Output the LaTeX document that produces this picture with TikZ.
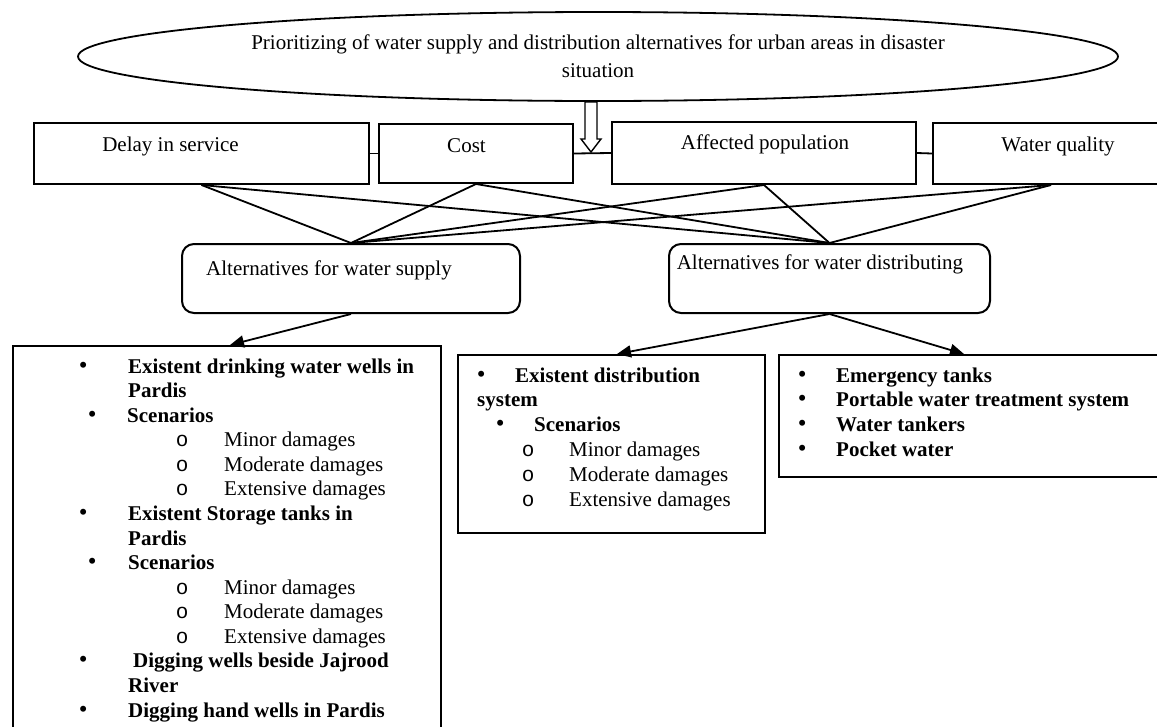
\documentclass[tikz,border=0pt]{standalone}
\usepackage{fontspec}
\setmainfont{Liberation Serif}
\newfontfamily\monof{Liberation Mono}
\usetikzlibrary{shapes.geometric,arrows.meta}
\newcommand\bitem[3]{\makebox[0pt]{#1}\hspace*{#2pt}#3}
\newcommand\subo{{\monof o}}
\newcommand\bdot{{\fontsize{25}{24.5}\selectfont •}}
\begin{document}
\begin{tikzpicture}[x=1pt,y=-1pt,
  every node/.style={inner sep=0pt, font=\fontsize{21}{24.5}\selectfont},
  crit/.style={draw, line width=2pt, rectangle, anchor=north west},
  altbox/.style={draw, line width=2pt, rounded corners=12pt, anchor=north west},
  listbox/.style={draw, line width=2pt, anchor=north west},
  link/.style={line width=1.8pt},
  arr/.style={line width=1.8pt, -{Triangle[length=14pt,width=12pt]}},
  txt/.style={anchor=base west}
]
\useasboundingbox (0,0) rectangle (1157,726);
\clip (0,0) rectangle (1157,726);

% title ellipse
\node[draw, ellipse, line width=1.8pt, minimum width=1040pt, minimum height=89pt,
      align=center, font=\fontsize{21}{28}\selectfont] (title) at (598,56.5)
  {Prioritizing of water supply and distribution alternatives for urban areas in disaster\\situation};

% hollow arrow
\draw[line width=1.4pt, fill=white] (585,102) -- (597,102) -- (597,139) -- (601,139)
  -- (591,152) -- (581,139) -- (585,139) -- cycle;

% criteria boxes
\node[crit, minimum width=335pt, minimum height=61pt] (delay) at (33,122) {};
\node[crit, minimum width=194pt, minimum height=59pt] (cost) at (378,123) {};
\node[crit, minimum width=304pt, minimum height=62pt] (aff) at (611,121) {};
\node[crit, minimum width=236pt, minimum height=61pt] (water) at (932,122) {};
\node (tdelay) at (170.5,146) {Delay in service};
\node (tcost) at (466.5,146) {Cost};
\node (taff) at (765,144) {Affected population};
\node (twater) at (1058,146) {Water quality};

\draw[link] (delay.east) -- (cost.west);
\draw[link] (cost.east) -- (aff.west);
\draw[link] (aff.east) -- (water.west);

% alternatives
\node[altbox, minimum width=338pt, minimum height=69pt] (supply) at (181,243) {};
\node[altbox, minimum width=321pt, minimum height=69pt] (distr) at (668,243) {};
\node (tsupply) at (329,270) {Alternatives for water supply};
\node (tdistr) at (820,264) {Alternatives for water distributing};

\foreach \c in {delay,cost,aff,water}{
  \draw[link] (\c.south) -- (supply.north);
  \draw[link] (\c.south) -- (distr.north);
}

% list boxes
\node[listbox, minimum width=428pt, minimum height=420pt] (leftbox) at (12,345) {};
\node[listbox, minimum width=307pt, minimum height=178pt] (midbox) at (457,354) {};
\node[listbox, minimum width=400pt, minimum height=122pt] (rightbox) at (778,354) {};

\draw[arr] (supply.south) -- ([xshift=218pt]leftbox.north west);
\draw[arr] (distr.south) -- ([xshift=160pt]midbox.north west);
\draw[arr] (distr.south) -- ([xshift=186pt]rightbox.north west);

% left box content
\node[txt] (l0) at (83,373) {\bitem{\bdot}{45}{\textbf{Existent drinking water wells in}}};
\node[txt] (l1) at (128,397.6) {\textbf{Pardis}};
\node[txt] (l2) at (92,422.1) {\bitem{\bdot}{35}{\textbf{Scenarios}}};
\node[txt] (l3) at (182,446.7) {\bitem{\subo}{42}{Minor damages}};
\node[txt] (l4) at (182,471.3) {\bitem{\subo}{42}{Moderate damages}};
\node[txt] (l5) at (182,495.9) {\bitem{\subo}{42}{Extensive damages}};
\node[txt] (l6) at (83,520.4) {\bitem{\bdot}{45}{\textbf{Existent Storage tanks in}}};
\node[txt] (l7) at (128,545) {\textbf{Pardis}};
\node[txt] (l8) at (92,569.6) {\bitem{\bdot}{36}{\textbf{Scenarios}}};
\node[txt] (l9) at (182,594.1) {\bitem{\subo}{42}{Minor damages}};
\node[txt] (l10) at (182,618.7) {\bitem{\subo}{42}{Moderate damages}};
\node[txt] (l11) at (182,643.3) {\bitem{\subo}{42}{Extensive damages}};
\node[txt] (l12) at (83,667.8) {\bitem{\bdot}{50}{\textbf{Digging wells beside Jajrood}}};
\node[txt] (l13) at (128,692.4) {\textbf{River}};
\node[txt] (l14) at (83,717) {\bitem{\bdot}{45}{\textbf{Digging hand wells in Pardis}}};

% middle box content
\node[txt] (m0) at (481,382) {\bitem{\bdot}{34}{\textbf{Existent distribution}}};
\node[txt] (m1) at (477,406.8) {\textbf{system}};
\node[txt] (m2) at (500,431.6) {\bitem{\bdot}{34}{\textbf{Scenarios}}};
\node[txt] (m3) at (528,456.4) {\bitem{\subo}{41}{Minor damages}};
\node[txt] (m4) at (528,481.2) {\bitem{\subo}{41}{Moderate damages}};
\node[txt] (m5) at (528,506) {\bitem{\subo}{41}{Extensive damages}};

% right box content
\node[txt] (r0) at (802,382) {\bitem{\bdot}{34}{\textbf{Emergency tanks}}};
\node[txt] (r1) at (802,406.7) {\bitem{\bdot}{34}{\textbf{Portable water treatment system}}};
\node[txt] (r2) at (802,431.4) {\bitem{\bdot}{34}{\textbf{Water tankers}}};
\node[txt] (r3) at (802,456.1) {\bitem{\bdot}{34}{\textbf{Pocket water}}};
\end{tikzpicture}
\end{document}
